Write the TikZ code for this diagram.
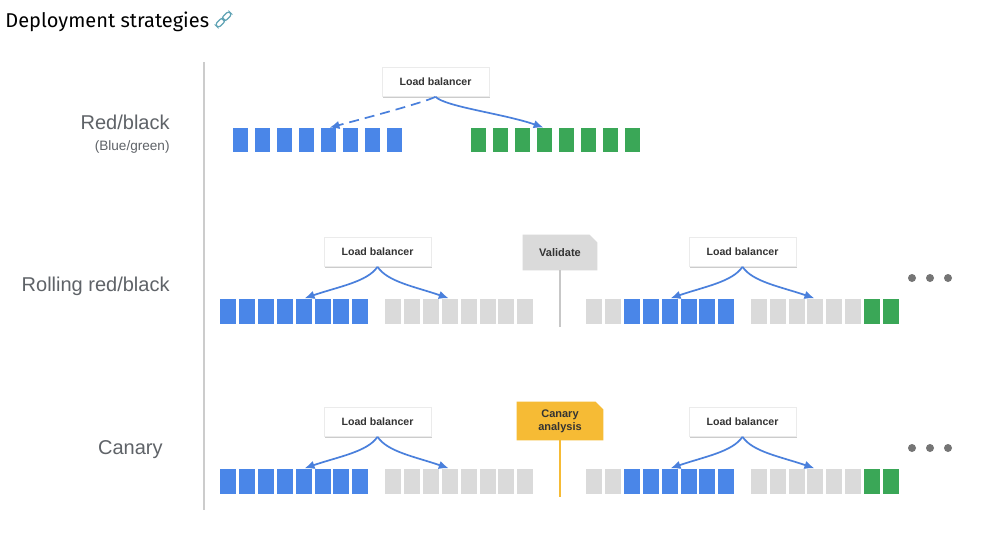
\documentclass[tikz,border=0pt]{standalone}
\usepackage{fontspec}
\setmainfont{Liberation Sans}
\newfontfamily\titlefont{Fira Sans}
\usepackage{tikz}
\usetikzlibrary{arrows.meta, positioning, calc, backgrounds}

\definecolor{gblue}{HTML}{4A86E8}
\definecolor{ggreen}{HTML}{3AA757}
\definecolor{ggray}{HTML}{DADADA}
\definecolor{gyellow}{HTML}{F6BB35}
\definecolor{arrowblue}{HTML}{4A80DC}
\definecolor{labelgray}{HTML}{5F6368}
\definecolor{linkteal}{HTML}{5FA3B5}
\definecolor{dotgray}{HTML}{757575}

\begin{document}
\begin{tikzpicture}[x=0.5pt, y=-0.5pt,
    bar/.style={minimum width=8pt, minimum height=12.5pt, inner sep=0pt, draw=none},
    wbar/.style={minimum width=7.85pt, minimum height=11.7pt, inner sep=0pt, draw=none},
    lb/.style={fill=white, draw=black!8, line width=0.3pt, minimum width=53.5pt, minimum height=14.5pt,
        inner sep=0pt, font=\fontsize{5.3}{6}\selectfont\bfseries, text=black!80,
        preaction={fill=black!20, transform canvas={xshift=0.3pt, yshift=-0.9pt}}},
    tag/.style={minimum width=37pt, minimum height=17.5pt, inner sep=0pt, align=center,
        font=\fontsize{5.5}{6.4}\selectfont\bfseries, text=black!80},
    lbarrow/.style={arrowblue, line width=0.85pt, shorten >=0.5pt, -{Latex[length=5pt, width=4.2pt]}},
    rowlabel/.style={anchor=base east, text=labelgray, inner sep=0pt, font=\fontsize{10}{12}\selectfont}
]
\begin{scope}[on background layer]
    \fill[white] (0,0) rectangle (998,552);
\end{scope}
\useasboundingbox (0,0) rectangle (998,552);

% Titulo
\node[anchor=base west, inner sep=0pt, font=\titlefont\fontsize{10}{12}\selectfont] (title) at (5,27.5) {Deployment strategies};
\foreach \s in {-1,1}{
    \draw[linkteal, line width=0.6pt, rounded corners=1.4pt, rotate around={-45:(223.5,19.5)}]
        (221,19.5+4.5*\s-5) rectangle (226,19.5+4.5*\s+5);
}

% Divisoria
\draw[black!20, line width=1pt] (204,62) -- (204,510);

% Rotulos
\node[rowlabel] (rb) at (170,129.3) {Red/black};
\node[rowlabel, font=\fontsize{6.8}{8}\selectfont] (bg) at (170,150) {(Blue/green)};
\node[rowlabel] (rrb) at (170,291.7) {Rolling red/black};
\node[rowlabel] (can) at (163,454) {Canary};

% Red/black
\node[lb] (lbtop) at (435.5,82) {Load balancer};
\foreach \i in {0,...,7}{
    \node[wbar, fill=gblue] (tb\i) at (240.5+22*\i,140) {};
    \node[wbar, fill=ggreen] (tg\i) at (478.5+22*\i,140) {};
}
\draw[lbarrow, dash pattern=on 5pt off 3pt] (lbtop.south) .. controls +(-12,6) and +(30,-8) .. (tb4.north);
\draw[lbarrow] (lbtop.south) .. controls +(10,10) and +(-40,-14) .. (tg3.north);

% Rolling red/black e Canary
\foreach \r/\yy in {2/311.5, 3/481.5}{
    \foreach \c [count=\i from 0] in {gblue,gblue,gblue,gblue,gblue,gblue,gblue,gblue}
        \node[bar, fill=\c] (a\r-\i) at (228+18.9*\i,\yy) {};
    \foreach \c [count=\i from 0] in {ggray,ggray,ggray,ggray,ggray,ggray,ggray,ggray}
        \node[bar, fill=\c] (b\r-\i) at (393+18.9*\i,\yy) {};
    \foreach \c [count=\i from 0] in {ggray,ggray,gblue,gblue,gblue,gblue,gblue,gblue}
        \node[bar, fill=\c] (c\r-\i) at (594+18.9*\i,\yy) {};
    \foreach \c [count=\i from 0] in {ggray,ggray,ggray,ggray,ggray,ggray,ggreen,ggreen}
        \node[bar, fill=\c] (d\r-\i) at (758.7+18.9*\i,\yy) {};
    % reticencias
    \foreach \dx in {0,18,36}
        \fill[dotgray] (912+\dx,\yy-33.5) circle (2pt);
}
\node[lb] (lbl2) at (377.5,252) {Load balancer};
\node[lb] (lbr2) at (742.5,252) {Load balancer};
\node[lb] (lbl3) at (377.5,422) {Load balancer};
\node[lb] (lbr3) at (742.5,422) {Load balancer};
\foreach \r in {2,3}{
    \draw[lbarrow] (lbl\r.south) .. controls +(-10,15) and +(35,-12) .. (a\r-4.north);
    \draw[lbarrow] (lbl\r.south) .. controls +(10,15) and +(-35,-12) .. (b\r-3.north);
    \draw[lbarrow] (lbr\r.south) .. controls +(-10,15) and +(35,-12) .. (c\r-4.north);
    \draw[lbarrow] (lbr\r.south) .. controls +(10,15) and +(-35,-12) .. (d\r-3.north);
}

% Validate
\node[tag] (validate) at (560,252.5) {Validate};
\coordinate (vend) at (560,327);
\draw[black!22, line width=0.6pt] (validate.south) -- (vend);
% Canary analysis
\node[tag, minimum width=43pt, minimum height=19pt] (canary) at (560,421) {Canary\\analysis};
\coordinate (cend) at (560,497);
\draw[gyellow, line width=0.8pt] (canary.south) -- (cend);
\begin{scope}[on background layer]
    \foreach \t/\c in {validate/ggray, canary/gyellow}
        \fill[\c] (\t.south west) -- (\t.north west) -- ([xshift=-4pt]\t.north east)
            -- ([yshift=-4pt]\t.north east) -- (\t.south east) -- cycle;
\end{scope}
\end{tikzpicture}
\end{document}
